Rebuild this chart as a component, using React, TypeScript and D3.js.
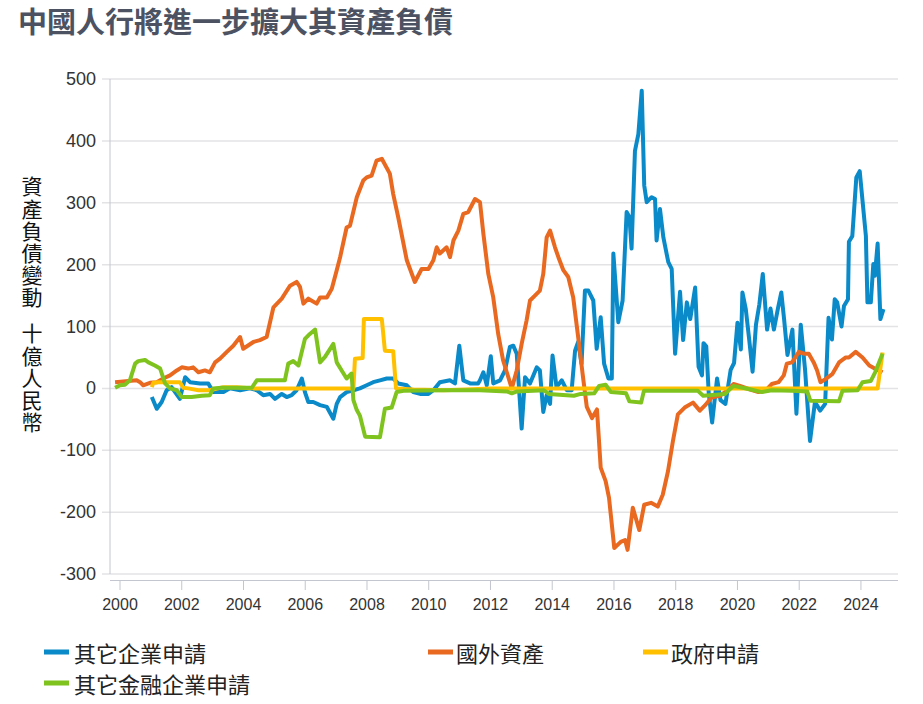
import React from "react";
import * as d3 from "d3";

const title = "中國人行將進一步擴大其資產負債";
const yAxisLabelTop = "資產負債變動";
const yAxisLabelBottom = "十億人民幣";
const yTicks = [500, 400, 300, 200, 100, 0, -100, -200, -300];
const xTicks = [2000, 2002, 2004, 2006, 2008, 2010, 2012, 2014, 2016, 2018, 2020, 2022, 2024];

const seriesNames = ["其它企業申請", "國外資產", "政府申請", "其它金融企業申請"];
const seriesColors = ["#0a8ac8", "#e8691f", "#ffc000", "#7fc31f"];

// [decimal year, billion RMB]
const otherCorporateClaims: [number, number][] = [
  [2001.03, -14], [2001.19, -33], [2001.35, -22], [2001.51, -3], [2001.67, 2], [2001.94, -17],
  [2002.11, 18], [2002.27, 10], [2002.59, 8], [2002.86, 8], [2003.02, -6], [2003.35, -6],
  [2003.56, 0], [2003.89, -3], [2004.21, 0], [2004.43, -3], [2004.64, -11], [2004.86, -9],
  [2005.02, -17], [2005.24, -9], [2005.4, -14], [2005.56, -11], [2005.72, -3], [2005.89, 16],
  [2005.99, -6], [2006.1, -22], [2006.26, -22], [2006.48, -27], [2006.7, -30], [2006.91, -49],
  [2007.02, -25], [2007.13, -14], [2007.34, -6], [2007.56, -3], [2007.77, 0], [2007.99, 5],
  [2008.2, 10], [2008.42, 13], [2008.64, 16], [2008.85, 16], [2009.01, 8], [2009.29, 5],
  [2009.5, -6], [2009.72, -9], [2009.99, -9], [2010.15, -3], [2010.36, 10], [2010.69, 13],
  [2010.85, 8], [2010.99, 69], [2011.12, 13], [2011.34, 8], [2011.6, 8], [2011.66, 13],
  [2011.77, 26], [2011.88, 5], [2012.01, 52], [2012.09, 8], [2012.31, 13], [2012.47, 29],
  [2012.63, 67], [2012.74, 69], [2012.85, 56], [2013.01, -65], [2013.12, 18], [2013.28, 8],
  [2013.5, 34], [2013.6, 29], [2013.71, -38], [2013.82, -11], [2013.93, -25], [2014.01, 53],
  [2014.14, 2], [2014.31, 13], [2014.47, -3], [2014.63, -3], [2014.74, 61], [2014.84, 75],
  [2014.95, 40], [2015.06, 158], [2015.17, 158], [2015.33, 142], [2015.44, 64], [2015.57, 115],
  [2015.68, 40], [2015.82, 16], [2015.93, 16], [2015.98, 218], [2016.14, 107], [2016.28, 142],
  [2016.41, 285], [2016.5, 277], [2016.57, 226], [2016.68, 384], [2016.79, 411], [2016.9, 481],
  [2016.98, 328], [2017.06, 301], [2017.22, 309], [2017.33, 306], [2017.38, 239], [2017.49, 290],
  [2017.6, 244], [2017.76, 204], [2017.87, 193], [2017.98, 56], [2018.14, 156], [2018.24, 78],
  [2018.36, 139], [2018.47, 112], [2018.63, 163], [2018.74, 35], [2018.85, 21], [2018.9, 73],
  [2018.99, 68], [2019.07, -8], [2019.18, -55], [2019.34, 16], [2019.45, -19], [2019.61, -25],
  [2019.78, 30], [2019.89, 41], [2020.0, 106], [2020.11, 63], [2020.16, 155], [2020.27, 128],
  [2020.38, 79], [2020.49, 27], [2020.6, 103], [2020.71, 136], [2020.82, 185], [2020.96, 95],
  [2021.07, 129], [2021.18, 95], [2021.31, 129], [2021.42, 155], [2021.51, 112], [2021.62, 54],
  [2021.78, 95], [2021.91, -41], [2022.05, 103], [2022.19, 30], [2022.35, -85], [2022.51, -22],
  [2022.68, -36], [2022.84, -25], [2022.95, 114], [2023.06, 79], [2023.15, 144], [2023.23, 139],
  [2023.37, 100], [2023.45, 133], [2023.58, 144], [2023.61, 237], [2023.72, 246], [2023.85, 341],
  [2023.96, 351], [2024.16, 246], [2024.21, 139], [2024.32, 139], [2024.4, 201], [2024.45, 182],
  [2024.54, 234], [2024.63, 112], [2024.73, 128],
];

const foreignAssets: [number, number][] = [
  [1999.84, 10], [2000.54, 13], [2000.65, 10], [2000.75, 5], [2000.97, 9], [2001.19, 10],
  [2001.4, 16], [2001.62, 21], [2001.84, 29], [2002.0, 34], [2002.21, 32], [2002.37, 34],
  [2002.54, 26], [2002.75, 29], [2002.91, 26], [2003.08, 42], [2003.24, 48], [2003.46, 59],
  [2003.67, 69], [2003.89, 83], [2003.99, 64], [2004.32, 75], [2004.53, 78], [2004.75, 83],
  [2004.97, 131], [2005.24, 145], [2005.34, 153], [2005.51, 166], [2005.72, 172], [2005.83, 164],
  [2005.94, 137], [2006.1, 145], [2006.37, 137], [2006.48, 147], [2006.7, 147], [2006.86, 161],
  [2007.02, 191], [2007.13, 212], [2007.34, 260], [2007.45, 263], [2007.67, 309], [2007.88, 336],
  [2007.99, 341], [2008.15, 344], [2008.31, 368], [2008.48, 371], [2008.74, 347], [2008.85, 314],
  [2009.01, 277], [2009.29, 207], [2009.55, 172], [2009.77, 193], [2009.99, 193], [2010.15, 207],
  [2010.26, 228], [2010.36, 218], [2010.58, 228], [2010.69, 212], [2010.8, 239], [2010.96, 255],
  [2011.12, 282], [2011.28, 285], [2011.5, 306], [2011.66, 301], [2011.77, 250], [2011.93, 185],
  [2012.09, 147], [2012.25, 88], [2012.41, 45], [2012.69, 0], [2012.85, 29], [2013.01, 72],
  [2013.17, 110], [2013.28, 142], [2013.44, 150], [2013.6, 158], [2013.71, 185], [2013.82, 244],
  [2013.93, 255], [2014.09, 228], [2014.2, 212], [2014.36, 191], [2014.52, 180], [2014.68, 147],
  [2014.84, 83], [2015.01, 13], [2015.12, -30], [2015.29, -48], [2015.45, -34], [2015.57, -128],
  [2015.73, -150], [2015.84, -177], [2016.01, -258], [2016.22, -248], [2016.36, -245], [2016.44, -261],
  [2016.61, -193], [2016.82, -229], [2016.98, -188], [2017.2, -185], [2017.42, -191], [2017.58, -172],
  [2017.75, -134], [2017.91, -85], [2018.07, -42], [2018.29, -31], [2018.56, -23], [2018.78, -36],
  [2018.94, -28], [2019.16, -15], [2019.43, -12], [2019.65, -4], [2019.87, 7], [2020.08, 4],
  [2020.36, -1], [2020.68, -6], [2020.9, -4], [2021.11, 7], [2021.33, 10], [2021.5, 21],
  [2021.6, 40], [2021.77, 42], [2021.99, 59], [2022.15, 56], [2022.31, 56], [2022.47, 42],
  [2022.58, 29], [2022.69, 10], [2022.85, 15], [2023.07, 23], [2023.29, 42], [2023.51, 50],
  [2023.61, 50], [2023.83, 59], [2024.05, 50], [2024.27, 37], [2024.49, 31], [2024.7, 26],
];

const governmentClaims: [number, number][] = [
  [2001.03, 2], [2001.08, 9], [2001.24, 10], [2001.94, 10], [2002.05, 1], [2002.21, 0],
  [2002.54, -3], [2002.91, -3], [2003.35, 2], [2003.78, 2], [2004.32, 0], [2007.56, 0],
  [2007.61, 48], [2007.86, 49], [2007.9, 112], [2008.48, 112], [2008.58, 61], [2008.85, 60],
  [2008.94, 0], [2009.5, -2], [2010.5, -3], [2011.2, -2], [2012.0, 0], [2016.0, 0],
  [2020.0, 0], [2024.54, 0], [2024.7, 58],
];

const otherFinancialClaims: [number, number][] = [
  [1999.84, 1], [2000.0, 5], [2000.16, 6], [2000.32, 13], [2000.49, 40], [2000.59, 44],
  [2000.81, 46], [2000.92, 42], [2001.13, 37], [2001.3, 32], [2001.46, 8], [2001.62, 0],
  [2001.84, -3], [2002.0, -14], [2002.32, -14], [2002.65, -12], [2002.91, -11], [2003.02, 0],
  [2003.29, 1], [2004.27, 1], [2004.43, 13], [2005.34, 13], [2005.45, 40], [2005.61, 44],
  [2005.78, 37], [2005.99, 80], [2006.15, 88], [2006.32, 95], [2006.48, 42], [2006.64, 51],
  [2006.91, 72], [2007.02, 42], [2007.18, 29], [2007.34, 16], [2007.5, 24], [2007.56, -19],
  [2007.67, -35], [2007.77, -44], [2007.94, -78], [2008.42, -79], [2008.58, -33], [2008.8, -31],
  [2008.96, -6], [2009.18, -4], [2010.5, -3], [2011.66, -3], [2012.53, -5], [2012.69, -8],
  [2012.86, -5], [2013.73, -3], [2013.89, -9], [2014.7, -12], [2014.92, -9], [2015.36, -8],
  [2015.52, 4], [2015.73, 6], [2015.9, -6], [2016.39, -8], [2016.5, -21], [2016.88, -23],
  [2016.97, -4], [2018.72, -4], [2018.89, -12], [2019.6, -9], [2019.76, -1], [2019.87, 4],
  [2020.36, -1], [2020.79, -6], [2021.11, -3], [2021.77, -4], [2022.26, -5], [2022.36, -20],
  [2023.29, -21], [2023.4, -4], [2023.89, -3], [2024.05, 10], [2024.32, 12], [2024.46, 26],
  [2024.65, 50], [2024.7, 56],
];

const allSeries = [otherCorporateClaims, foreignAssets, governmentClaims, otherFinancialClaims];

const W = 923;
const H = 704;
const plotLeft = 110;
const plotRight = 898;
const plotTop = 79;
const plotBottom = 574;

const cjk = "'Noto Sans CJK TC', 'Noto Sans CJK SC', sans-serif";
const latin = "'Liberation Sans', Arial, sans-serif";

export default function App() {
  const x = d3.scaleLinear().domain([1999.676, 2025.2]).range([plotLeft, plotRight]);
  const y = d3.scaleLinear().domain([-300, 500]).range([plotBottom, plotTop]);
  const line = d3
    .line<[number, number]>()
    .x((d) => x(d[0]))
    .y((d) => y(d[1]));

  const legendItems = [
    { i: 0, mx: 44, tx: 74, ty: 652 },
    { i: 1, mx: 428, tx: 456, ty: 652 },
    { i: 2, mx: 643, tx: 671, ty: 652 },
    { i: 3, mx: 44, tx: 74, ty: 683 },
  ];

  return (
    <svg
      width={W}
      height={H}
      style={{ position: "absolute", left: 0, top: 0, display: "block", background: "#fff" }}
    >
      <text x={18} y={20} dominantBaseline="central" fontFamily={cjk} fontWeight={700} fontSize={29} fill="#4c5261">
        {title}
      </text>

      {yTicks.map((t) => (
        <g key={t}>
          <line x1={102} x2={plotRight} y1={y(t)} y2={y(t)} stroke="#e3e3e6" strokeWidth={1.5} />
          <text x={96} y={y(t)} textAnchor="end" dominantBaseline="central" fontFamily={latin} fontSize={18} fill="#333">
            {t}
          </text>
        </g>
      ))}
      <line x1={plotLeft} x2={plotLeft} y1={plotTop} y2={plotBottom} stroke="#c3c6ce" strokeWidth={1} />
      <line x1={plotLeft} x2={plotRight} y1={580.5} y2={580.5} stroke="#c3c6ce" strokeWidth={1} />
      {xTicks.map((t) => (
        <g key={t}>
          <line x1={x(t)} x2={x(t)} y1={581} y2={590} stroke="#c3c6ce" strokeWidth={1} />
          <text x={x(t)} y={604} textAnchor="middle" dominantBaseline="central" fontFamily={latin} fontSize={16} fill="#333">
            {t}
          </text>
        </g>
      ))}

      <text x={32} y={176} style={{ writingMode: "vertical-rl" }} fontFamily={cjk} fontSize={21} letterSpacing={1.2} fill="#111">
        {yAxisLabelTop}
      </text>
      <text x={32} y={323} style={{ writingMode: "vertical-rl" }} fontFamily={cjk} fontSize={21} letterSpacing={1.2} fill="#111">
        {yAxisLabelBottom}
      </text>

      {allSeries.map((s, i) => (
        <path
          key={i}
          d={line(s) || ""}
          fill="none"
          stroke={seriesColors[i]}
          strokeWidth={4}
          strokeLinejoin="round"
          strokeLinecap="butt"
        />
      ))}

      {legendItems.map((l) => (
        <g key={l.i}>
          <rect x={l.mx} y={l.ty - 2.5} width={25} height={5} fill={seriesColors[l.i]} />
          <text x={l.tx} y={l.ty} dominantBaseline="central" fontFamily={cjk} fontSize={22} fill="#222">
            {seriesNames[l.i]}
          </text>
        </g>
      ))}
    </svg>
  );
}
